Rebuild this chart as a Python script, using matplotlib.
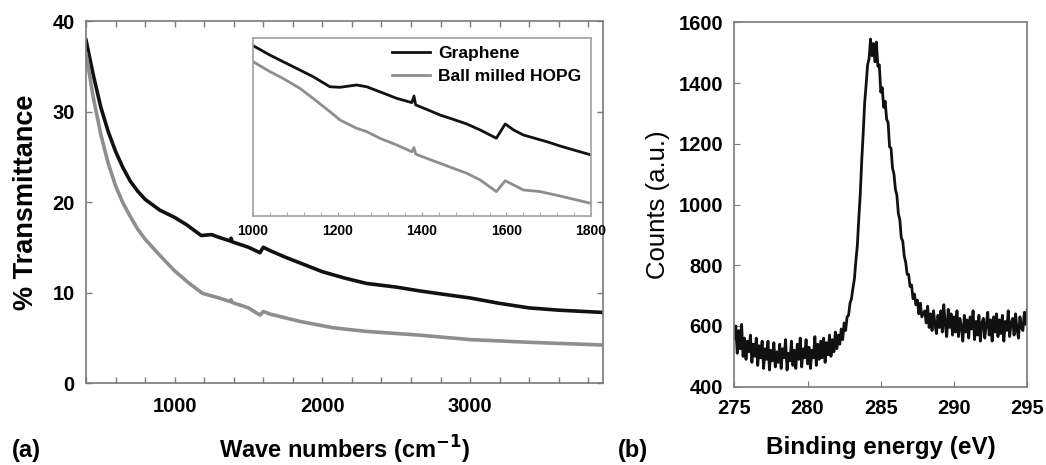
import numpy as np
import matplotlib
matplotlib.use("Agg")
import matplotlib.pyplot as plt
from matplotlib.ticker import MultipleLocator

plt.rcParams['font.family'] = ['Liberation Sans', 'DejaVu Sans']

# ---------------- Panel (a): FTIR transmittance ----------------
graphene_x = [400, 450, 500, 550, 600, 650, 700, 750, 800, 900, 1000, 1080, 1180, 1250,
              1300, 1375, 1382, 1390, 1500, 1578, 1600, 1650, 1750, 2000, 2150, 2300, 2500,
              2650, 2800, 3000, 3200, 3400, 3600, 3900]
graphene_y = [37.9, 34.0, 30.5, 27.8, 25.6, 23.8, 22.3, 21.2, 20.3, 19.1, 18.3, 17.5, 16.3, 16.4,
              16.1, 15.7, 16.0, 15.6, 15.0, 14.4, 15.0, 14.6, 13.9, 12.3, 11.6, 11.0, 10.6,
              10.2, 9.85, 9.4, 8.8, 8.3, 8.05, 7.8]

hopg_x = [400, 450, 500, 550, 600, 650, 700, 750, 800, 900, 1000, 1100, 1190, 1300,
          1375, 1382, 1390, 1500, 1578, 1600, 1650, 1850, 2075, 2300, 2650, 3000, 3400, 3900]
hopg_y = [36.4, 31.5, 27.5, 24.3, 21.8, 19.9, 18.4, 17.0, 15.9, 14.1, 12.4, 11.0, 9.9, 9.4,
          9.0, 9.2, 8.9, 8.3, 7.5, 7.9, 7.6, 6.8, 6.1, 5.7, 5.3, 4.8, 4.5, 4.2]

# inset (1000-1800 cm-1), arbitrary vertical units
inset_g_x = [1000, 1040, 1071, 1111, 1142, 1182, 1206, 1245, 1269, 1300, 1340, 1376, 1381,
             1385, 1411, 1443, 1474, 1506, 1538, 1576, 1597, 1617, 1640, 1696, 1727, 1759, 1800]
inset_g_y = [9.57, 9.04, 8.67, 8.20, 7.83, 7.26, 7.23, 7.36, 7.26, 6.98, 6.61, 6.37, 6.74,
             6.24, 5.99, 5.67, 5.43, 5.17, 4.83, 4.37, 5.17, 4.83, 4.55, 4.17, 3.93, 3.71, 3.43]
inset_h_x = [1000, 1040, 1071, 1111, 1142, 1182, 1206, 1245, 1269, 1300, 1340, 1376, 1381,
             1385, 1411, 1443, 1474, 1506, 1538, 1576, 1597, 1617, 1640, 1680, 1727, 1800]
inset_h_y = [8.67, 8.11, 7.73, 7.17, 6.61, 5.86, 5.39, 4.93, 4.74, 4.37, 3.99, 3.61, 3.84,
             3.48, 3.24, 2.96, 2.68, 2.40, 2.02, 1.37, 1.98, 1.74, 1.46, 1.37, 1.12, 0.71]

# ---------------- Panel (b): XPS C1s ----------------
xps_start, xps_step = 275.0, 0.1
xps_counts = [
    560, 600, 510, 585, 525, 605, 500, 560, 490, 550,
    515, 570, 480, 540, 500, 560, 470, 535, 495, 550,
    460, 525, 490, 550, 455, 520, 485, 545, 465, 515,
    480, 540, 460, 525, 495, 555, 455, 510, 485, 550,
    470, 520, 460, 540, 490, 560, 465, 525, 495, 555,
    475, 530, 460, 520, 495, 565, 470, 540, 490, 550,
    495, 560, 480, 545, 505, 570, 500, 555, 515, 580,
    525, 570, 540, 590, 555, 610, 585, 630, 635, 675,
    690, 725, 755, 815, 865, 955, 1035, 1145, 1235, 1335,
    1395, 1460, 1480, 1545, 1490, 1530, 1470, 1535, 1455, 1460,
    1370, 1385, 1320, 1340, 1280, 1270, 1190, 1185, 1120, 1100,
    1050, 1030, 970, 950, 890, 880, 830, 810, 770, 770,
    730, 735, 690, 705, 670, 685, 640, 675, 630, 640,
    650, 610, 665, 595, 640, 585, 650, 605, 575, 635,
    595, 650, 580, 670, 605, 565, 655, 595, 640, 570,
    630, 580, 650, 565, 625, 595, 550, 635, 580, 620,
    560, 630, 590, 650, 555, 615, 570, 635, 550, 610,
    625, 560, 605, 645, 570, 620, 550, 630, 580, 640,
    565, 620, 575, 635, 550, 615, 585, 650, 565, 610,
    625, 570, 640, 590, 560, 630, 595, 585, 645, 605,
    655,
]
xps_energy = xps_start + xps_step * np.arange(len(xps_counts))

BLACK = '#111111'
GRAY = '#8e8e8e'
SPINE = '#7a7a7a'

fig = plt.figure(figsize=(10.46, 4.65), dpi=100)

# ---- axes (a)
axa = fig.add_axes([0.0822, 0.1763, 0.4943, 0.7785])
axa.plot(graphene_x, graphene_y, color=BLACK, lw=2.6)
axa.plot(hopg_x, hopg_y, color=GRAY, lw=2.6)
axa.set_xlim(400, 3900)
axa.set_ylim(0, 40)
axa.xaxis.set_major_locator(MultipleLocator(1000))
axa.xaxis.set_minor_locator(MultipleLocator(200))
axa.yaxis.set_major_locator(MultipleLocator(10))
axa.tick_params(which='both', direction='in', top=True, right=True, color=SPINE, width=1)
axa.tick_params(which='major', length=4, labelsize=14.5)
axa.tick_params(which='minor', length=4)
axa.tick_params(axis='x', pad=10)
axa.tick_params(axis='y', pad=8)
for lab in axa.get_xticklabels() + axa.get_yticklabels():
    lab.set_fontweight('bold')
for s in axa.spines.values():
    s.set_color(SPINE)
    s.set_linewidth(1.2)
axa.set_xlabel('Wave numbers (cm$^{\\mathbf{-1}}$)', fontsize=17, fontweight='bold', labelpad=13)
axa.set_ylabel('% Transmittance', fontsize=19.5, fontweight='bold', labelpad=10)

# ---- inset
axi = fig.add_axes([0.2419, 0.5355, 0.3231, 0.3828])
axi.plot(inset_g_x, inset_g_y, color=BLACK, lw=2.0, label='Graphene')
axi.plot(inset_h_x, inset_h_y, color=GRAY, lw=2.0, label='Ball milled HOPG')
axi.set_xlim(1000, 1800)
axi.set_ylim(0, 10)
axi.xaxis.set_major_locator(MultipleLocator(200))
axi.xaxis.set_minor_locator(MultipleLocator(40))
axi.set_yticks([])
axi.tick_params(which='both', direction='in', length=3, color='#999999', labelsize=10, pad=6)
for lab in axi.get_xticklabels():
    lab.set_fontweight('bold')
for s in axi.spines.values():
    s.set_color('#a0a0a0')
    s.set_linewidth(1.2)
axi.legend(loc='upper left', bbox_to_anchor=(0.41, 0.955), frameon=False,
           prop={'weight': 'bold', 'size': 12.5}, handlelength=2.2, handletextpad=0.5,
           labelspacing=0.45, borderpad=0, borderaxespad=0)

# ---- axes (b)
axb = fig.add_axes([0.7020, 0.1684, 0.2801, 0.7836])
axb.plot(xps_energy, xps_counts, color=BLACK, lw=2.0)
axb.set_xlim(275, 295)
axb.set_ylim(400, 1600)
axb.xaxis.set_major_locator(MultipleLocator(5))
axb.yaxis.set_major_locator(MultipleLocator(200))
axb.tick_params(direction='in', length=4, color=SPINE, labelsize=14.5)
axb.tick_params(axis='x', pad=9)
axb.tick_params(axis='y', pad=8)
for lab in axb.get_xticklabels() + axb.get_yticklabels():
    lab.set_fontweight('bold')
for s in axb.spines.values():
    s.set_color(SPINE)
    s.set_linewidth(1.2)
axb.set_xlabel('Binding energy (eV)', fontsize=17.5, fontweight='bold', labelpad=13)
axb.set_ylabel('Counts (a.u.)', fontsize=18.5, labelpad=6)

fig.text(12 / 1046, 1 - 450 / 465, '(a)', fontsize=17, fontweight='bold', va='center', ha='left')
fig.text(618 / 1046, 1 - 450 / 465, '(b)', fontsize=17, fontweight='bold', va='center', ha='left')

fig.savefig('out.png', dpi=100, facecolor='white')
